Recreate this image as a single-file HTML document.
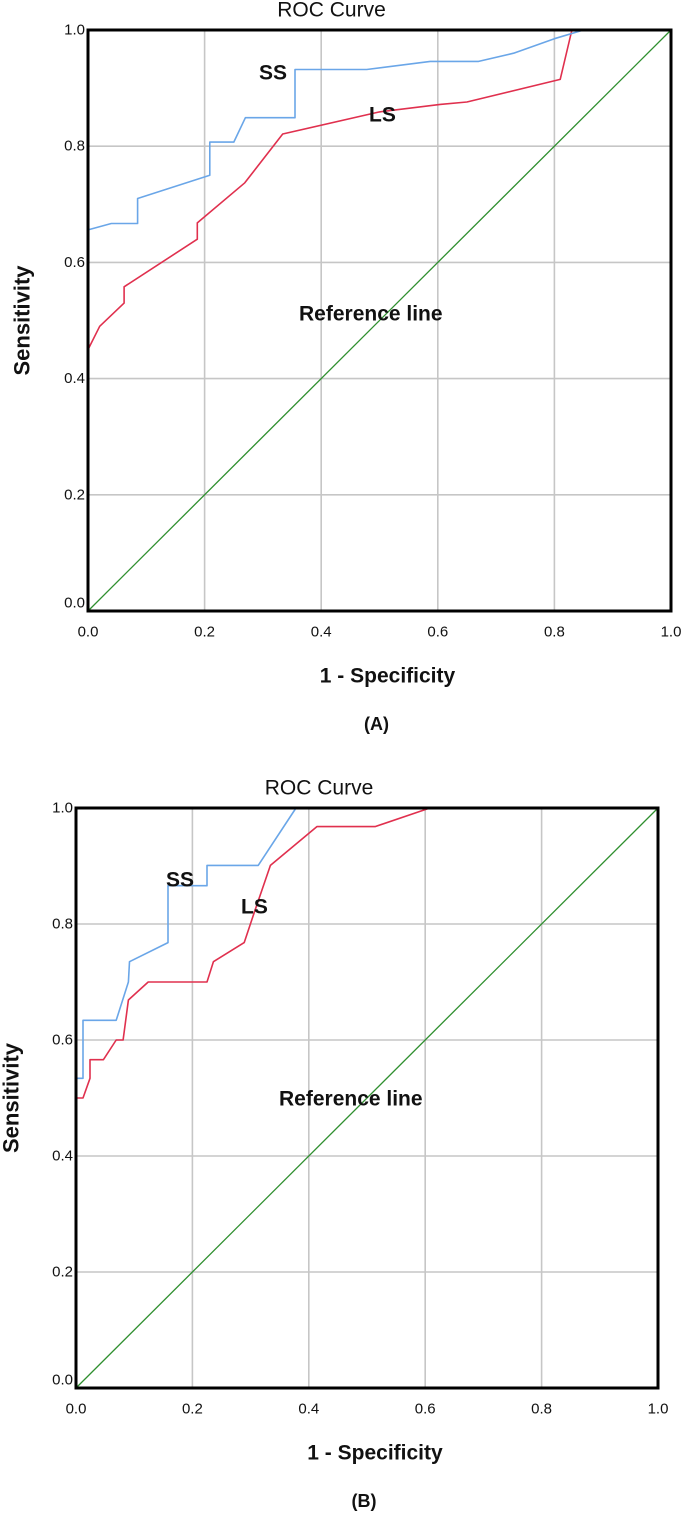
<!DOCTYPE html>
<html><head><meta charset="utf-8"><style>
html,body{margin:0;padding:0;background:#fff;}
svg{display:block;font-family:"Liberation Sans",Arial,sans-serif;}
</style></head><body>
<svg id="fig" width="685" height="1517" viewBox="0 0 685 1517" xmlns="http://www.w3.org/2000/svg"></svg>
<script>
const ticks = [0, 0.2, 0.4, 0.6, 0.8, 1.0];
const tickLabels = ["0.0", "0.2", "0.4", "0.6", "0.8", "1.0"];
const ssA_fpr = [0, 0.04, 0.085, 0.085, 0.209, 0.209, 0.25, 0.27, 0.355, 0.355, 0.478, 0.587, 0.67, 0.73, 0.80, 0.85, 1];
const ssA_tpr = [0.656, 0.667, 0.667, 0.71, 0.75, 0.807, 0.807, 0.849, 0.849, 0.932, 0.932, 0.946, 0.946, 0.96, 0.985, 1, 1];
const lsA_fpr = [0, 0.02, 0.062, 0.062, 0.1875, 0.1875, 0.269, 0.334, 0.50, 0.604, 0.65, 0.81, 0.83, 1];
const lsA_tpr = [0.45, 0.49, 0.53, 0.558, 0.64, 0.668, 0.737, 0.821, 0.859, 0.872, 0.876, 0.915, 1, 1];
const ssB_fpr = [0, 0.012, 0.012, 0.069, 0.09, 0.092, 0.158, 0.158, 0.225, 0.225, 0.313, 0.378, 1];
const ssB_tpr = [0.534, 0.534, 0.634, 0.634, 0.70, 0.735, 0.768, 0.866, 0.866, 0.901, 0.901, 1, 1];
const lsB_fpr = [0, 0.012, 0.024, 0.024, 0.047, 0.069, 0.081, 0.09, 0.124, 0.225, 0.236, 0.289, 0.305, 0.334, 0.414, 0.514, 0.608, 1];
const lsB_tpr = [0.50, 0.50, 0.534, 0.566, 0.566, 0.60, 0.60, 0.669, 0.70, 0.70, 0.735, 0.768, 0.816, 0.901, 0.968, 0.968, 1, 1];
const refLine = [0, 1];

const NS = "http://www.w3.org/2000/svg";
const svg = document.getElementById("fig");
function mk(tag, attrs, parent) {
  const e = document.createElementNS(NS, tag);
  for (const k in attrs) e.setAttribute(k, attrs[k]);
  (parent || svg).appendChild(e);
  return e;
}
function txt(str, x, y, size, weight, anchor, parent, name) {
  const t = mk("text", {x: x, y: y, "font-size": size, "font-weight": weight, "text-anchor": anchor, "dominant-baseline": "central", fill: "#111"}, parent);
  t.textContent = str;
  
  
  return t;
}

function chart(cfg) {
  const g = mk("g", {});
  
  
  const L = cfg.left, R = cfg.right, T = cfg.top, B = cfg.bottom;
  const sx = v => L + v * (R - L);
  const sy = v => B - v * (B - T);
  ticks.forEach((t, i) => {
    if (i === 0 || i === ticks.length - 1) return;
    const gx = mk("line", {x1: sx(t), x2: sx(t), y1: T, y2: B, stroke: "#c6c6c6", "stroke-width": 1.6}, g);
    
    
    const gy = mk("line", {x1: L, x2: R, y1: sy(t), y2: sy(t), stroke: "#c6c6c6", "stroke-width": 1.6}, g);
    
    
  });
  const ref = mk("line", {x1: sx(refLine[0]), y1: sy(refLine[0]), x2: sx(refLine[1]), y2: sy(refLine[1]), stroke: "#2f8f2f", "stroke-width": 1.3}, g);
  
  
  function curve(xs, ys, color, name) {
    const d = xs.map((x, i) => (i ? "L" : "M") + sx(x).toFixed(1) + " " + sy(ys[i]).toFixed(1)).join(" ");
    const p = mk("path", {d: d, fill: "none", stroke: color, "stroke-width": 1.6, "stroke-linejoin": "round"}, g);
    
    
  }
  curve(cfg.ls[0], cfg.ls[1], "#e0304e", "ls-curve");
  curve(cfg.ss[0], cfg.ss[1], "#6aa6e8", "ss-curve");
  const fr = mk("rect", {x: L, y: T, width: R - L, height: B - T, fill: "none", stroke: "#000", "stroke-width": 3}, g);
  
  
  ticks.forEach((t, i) => {
    txt(tickLabels[i], sx(t), B + 21, 15, "normal", "middle", g, "x-tick-label");
    txt(tickLabels[i], L - 3, sy(t) - (i === 0 ? 8 : 0), 15, "normal", "end", g, "y-tick-label");
  });
  txt("ROC Curve", (L + R) / 2 - 48, T - 20, 21, "normal", "middle", g, "chart-title");
  txt("1 - Specificity", (L + R) / 2 + 8, B + 65, 21, "bold", "middle", g, "x-axis-title");
  const yt = txt("Sensitivity", 0, 0, 22, "bold", "middle", g, "y-axis-title");
  yt.setAttribute("transform", "translate(" + cfg.ytx + "," + ((T + B) / 2) + ") rotate(-90)");
  txt(cfg.panel, (L + R) / 2 - 3, B + 113, 18, "bold", "middle", g, "panel-label");
  txt("SS", cfg.ssLab[0], cfg.ssLab[1], 21, "bold", "start", g, "ss-label");
  txt("LS", cfg.lsLab[0], cfg.lsLab[1], 21, "bold", "start", g, "ls-label");
  txt("Reference line", cfg.refLab[0], cfg.refLab[1], 21, "bold", "start", g, "reference-line-label");
}

chart({name: "roc-chart-a", left: 88, right: 671, top: 30, bottom: 611, ytx: 22, panel: "(A)",
  ss: [ssA_fpr, ssA_tpr], ls: [lsA_fpr, lsA_tpr],
  ssLab: [259, 73], lsLab: [369, 115], refLab: [299, 314]});
chart({name: "roc-chart-b", left: 76, right: 658, top: 808, bottom: 1388, ytx: 11, panel: "(B)",
  ss: [ssB_fpr, ssB_tpr], ls: [lsB_fpr, lsB_tpr],
  ssLab: [166, 880], lsLab: [241, 907], refLab: [279, 1099]});
</script>
</body></html>
